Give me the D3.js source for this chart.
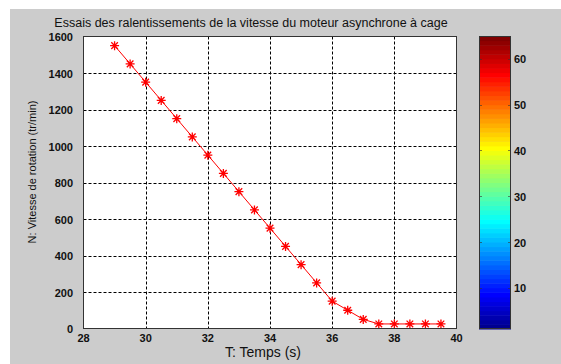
<!DOCTYPE html>
<html>
<head>
<meta charset="utf-8">
<script src="https://cdn.jsdelivr.net/npm/d3@7"></script>
<style>
  html, body { margin: 0; padding: 0; background: #ffffff; }
  svg { display: block; }
  text { font-family: "Liberation Sans", Arial, sans-serif; fill: #111; }
</style>
</head>
<body>
<svg id="chart" width="561" height="364"></svg>
<script>
// Time samples (s) and measured rotation speed (tr/min) during slow-down
const temps = [29, 29.5, 30, 30.5, 31, 31.5, 32, 32.5, 33, 33.5, 34, 34.5, 35, 35.5, 36, 36.5, 37, 37.5, 38, 38.5, 39, 39.5];
const vitesse = [1550, 1450, 1350, 1250, 1150, 1050, 950, 850, 750, 650, 550, 450, 350, 250, 150, 100, 50, 25, 25, 25, 25, 25];

const xTicks = [28, 30, 32, 34, 36, 38, 40];
const yTicks = [0, 200, 400, 600, 800, 1000, 1200, 1400, 1600];
const cbTicks = [10, 20, 30, 40, 50, 60];

const titleText = "Essais des ralentissements de la vitesse du moteur asynchrone à cage";
const xLabelText = "T: Temps (s)";
const yLabelText = "N: Vitesse de rotation (tr/min)";

const svg = d3.select("#chart");

// figure background
svg.append("rect").attr("x", 10).attr("y", 9).attr("width", 551).attr("height", 355).attr("fill", "#cccccc");

const x = d3.scaleLinear().domain([28, 40]).range([83.5, 456.5]);
const y = d3.scaleLinear().domain([0, 1600]).range([328.5, 36.5]);

// axes background
svg.append("rect")
  .attr("x", x(28)).attr("y", y(1600))
  .attr("width", x(40) - x(28)).attr("height", y(0) - y(1600))
  .attr("fill", "#ffffff");

// grid
const grid = svg.append("g").attr("stroke", "#000").attr("stroke-width", 1).attr("stroke-dasharray", "3,2");
grid.selectAll("line.v").data(xTicks.slice(1, -1)).join("line")
  .attr("x1", d => Math.round(x(d)) + 0.5).attr("x2", d => Math.round(x(d)) + 0.5)
  .attr("y1", y(1600)).attr("y2", y(0));
grid.selectAll("line.h").data(yTicks.slice(1, -1)).join("line")
  .attr("y1", d => Math.round(y(d)) + 0.5).attr("y2", d => Math.round(y(d)) + 0.5)
  .attr("x1", x(28)).attr("x2", x(40));

// data line
svg.append("path")
  .datum(temps.map((t, i) => [t, vitesse[i]]))
  .attr("fill", "none").attr("stroke", "#ff0000").attr("stroke-width", 1)
  .attr("d", d3.line().x(d => x(d[0])).y(d => y(d[1])));

// asterisk markers
const r = 4.5, rd = 3.3;
const star = `M${-r},0L${r},0M0,${-r}L0,${r}M${-rd},${-rd}L${rd},${rd}M${-rd},${rd}L${rd},${-rd}`;
svg.append("g").selectAll("path").data(temps).join("path")
  .attr("transform", (d, i) => `translate(${x(d)},${y(vitesse[i])})`)
  .attr("d", star).attr("stroke", "#ff0000").attr("stroke-width", 1.3).attr("fill", "none");

// axes box
svg.append("rect")
  .attr("x", x(28)).attr("y", y(1600))
  .attr("width", x(40) - x(28)).attr("height", y(0) - y(1600))
  .attr("fill", "none").attr("stroke", "#333").attr("stroke-width", 1);

// tick labels
svg.append("g").selectAll("text").data(xTicks).join("text")
  .attr("x", d => x(d)).attr("y", 342)
  .attr("text-anchor", "middle").attr("font-size", 11).attr("font-weight", "bold")
  .text(d => d);
svg.append("g").selectAll("text").data(yTicks).join("text")
  .attr("x", 73).attr("y", d => y(d) + 4.5)
  .attr("text-anchor", "end").attr("font-size", 11).attr("font-weight", "bold")
  .text(d => d);

// title and axis labels
svg.append("text").attr("x", 251).attr("y", 27).attr("text-anchor", "middle")
  .attr("font-size", 12.5).text(titleText);
svg.append("text").attr("x", 263).attr("y", 357).attr("text-anchor", "middle")
  .attr("font-size", 14).text(xLabelText);
svg.append("text").attr("transform", "translate(36,172) rotate(-90)").attr("text-anchor", "middle")
  .attr("font-size", 11).text(yLabelText);

// jet colormap, 64 levels
function jet(m) {
  const n = Math.ceil(m / 4);
  const u = [];
  for (let i = 1; i <= n; i++) u.push(i / n);
  for (let i = 1; i < n; i++) u.push(1);
  for (let i = n; i >= 1; i--) u.push(i / n);
  const g0 = Math.ceil(n / 2) - (m % 4 === 1 ? 1 : 0);
  const J = d3.range(m).map(() => [0, 0, 0]);
  u.forEach((v, k) => {
    const g = g0 + k + 1, rr = g + n, b = g - n;
    if (rr <= m) J[rr - 1][0] = v;
    if (g <= m) J[g - 1][1] = v;
    if (b >= 1) J[b - 1][2] = v;
  });
  return J.map(c => d3.rgb(c[0] * 255, c[1] * 255, c[2] * 255).toString());
}
const cmap = jet(64);
const cb = d3.scaleLinear().domain([1, 65]).range([329, 36]);
const cbx0 = 479, cbx1 = 511;
svg.append("g").selectAll("rect").data(cmap).join("rect")
  .attr("x", cbx0).attr("width", cbx1 - cbx0)
  .attr("y", (d, i) => cb(i + 2)).attr("height", (d, i) => cb(i + 1) - cb(i + 2) + 0.5)
  .attr("fill", d => d);
svg.append("rect").attr("x", cbx0 + 0.5).attr("y", cb(65) + 0.5)
  .attr("width", cbx1 - cbx0 - 1).attr("height", cb(1) - cb(65) - 1)
  .attr("fill", "none").attr("stroke", "#333");
const cbt = svg.append("g").attr("stroke", "#333").attr("stroke-opacity", 0.6);
cbt.selectAll("line.l").data(cbTicks).join("line")
  .attr("x1", cbx0).attr("x2", cbx0 + 3).attr("y1", d => Math.round(cb(d)) + 0.5).attr("y2", d => Math.round(cb(d)) + 0.5);
cbt.selectAll("line.r").data(cbTicks).join("line")
  .attr("x1", cbx1 - 3).attr("x2", cbx1).attr("y1", d => Math.round(cb(d)) + 0.5).attr("y2", d => Math.round(cb(d)) + 0.5);
svg.append("g").selectAll("text").data(cbTicks).join("text")
  .attr("x", 514).attr("y", d => cb(d) + 4.5)
  .attr("font-size", 11).attr("font-weight", "bold")
  .text(d => d);
</script>
</body>
</html>
